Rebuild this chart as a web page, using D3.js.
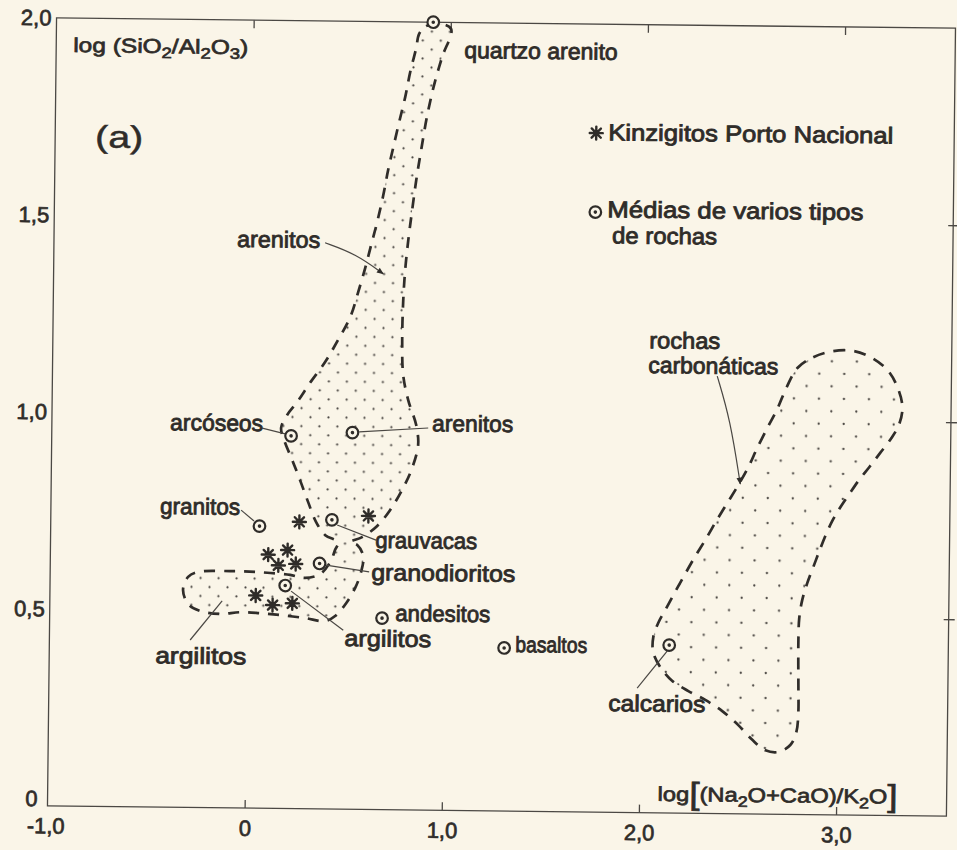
<!DOCTYPE html>
<html>
<head>
<meta charset="utf-8">
<script src="https://cdn.jsdelivr.net/npm/d3@7"></script>
<style>
  html, body { margin: 0; padding: 0; background: #faf5e8; }
  svg { display: block; }
  text { font-family: "Liberation Sans", Arial, sans-serif; fill: #2f2c29; }
</style>
</head>
<body>
<svg id="chart" width="957" height="850"></svg>
<script>
// ---- data: log[(Na2O+CaO)/K2O] (x) versus log(SiO2/Al2O3) (y) ----

// averages of several rock types (circled dots)
const rockNames = ["quartzo arenito", "arcóseos", "arenitos", "granitos", "grauvacas",
                   "granodioritos", "argilitos", "andesitos", "basaltos", "calcarios"];
const rockX = [0.911, 0.214, 0.525, 0.059, 0.426, 0.366, 0.193, 0.686, 1.307, 2.144];
const rockY = [2.000, 0.946, 0.956, 0.716, 0.734, 0.623, 0.566, 0.486, 0.414, 0.426];

// Kinzigitos Porto Nacional (asterisks)
const kinzX = [0.261, 0.611, 0.105, 0.203, 0.157, 0.245, 0.044, 0.130, 0.230];
const kinzY = [0.728, 0.745, 0.644, 0.656, 0.617, 0.621, 0.540, 0.516, 0.521];

// field of sandstones / arkoses / greywackes / pelites (single outline)
const clasticField = [
  [0.840, 1.970], [0.875, 1.990], [0.946, 1.996], [1.002, 1.983], [0.958, 1.912],
  [0.919, 1.841], [0.886, 1.764], [0.857, 1.675], [0.834, 1.599], [0.815, 1.523],
  [0.797, 1.446], [0.783, 1.370], [0.775, 1.294], [0.772, 1.193], [0.779, 1.104],
  [0.806, 1.040], [0.848, 0.977], [0.859, 0.927], [0.830, 0.868], [0.785, 0.817],
  [0.721, 0.761], [0.656, 0.720], [0.580, 0.691], [0.520, 0.678], [0.556, 0.671],
  [0.587, 0.643], [0.577, 0.603], [0.548, 0.562], [0.503, 0.523], [0.448, 0.490],
  [0.398, 0.477], [0.296, 0.484], [0.169, 0.491], [0.067, 0.495], [-0.034, 0.497],
  [-0.135, 0.492], [-0.237, 0.499], [-0.298, 0.516], [-0.325, 0.552], [-0.300, 0.585],
  [-0.250, 0.598], [-0.087, 0.601], [0.065, 0.599], [0.217, 0.593], [0.294, 0.586],
  [0.369, 0.596], [0.420, 0.627], [0.444, 0.658], [0.459, 0.678], [0.393, 0.695],
  [0.346, 0.728], [0.304, 0.779], [0.262, 0.834], [0.221, 0.885], [0.179, 0.935],
  [0.163, 0.966], [0.193, 0.999], [0.243, 1.032], [0.307, 1.081], [0.383, 1.135],
  [0.447, 1.191], [0.507, 1.249], [0.546, 1.313], [0.580, 1.374], [0.609, 1.433],
  [0.638, 1.491], [0.667, 1.558], [0.691, 1.624], [0.715, 1.680], [0.744, 1.746],
  [0.773, 1.809], [0.797, 1.873], [0.826, 1.934]
];

// field of carbonate rocks
const carbonateField = [
  [2.778, 1.133], [2.858, 1.161], [2.959, 1.177], [3.061, 1.178], [3.147, 1.163],
  [3.234, 1.131], [3.286, 1.088], [3.313, 1.037], [3.298, 0.994], [3.259, 0.958],
  [3.203, 0.920], [3.149, 0.884], [3.098, 0.851], [3.049, 0.815], [3.004, 0.781],
  [2.964, 0.746], [2.929, 0.707], [2.900, 0.669], [2.870, 0.628], [2.841, 0.588],
  [2.816, 0.544], [2.802, 0.498], [2.799, 0.443], [2.800, 0.379], [2.802, 0.316],
  [2.803, 0.260], [2.794, 0.209], [2.764, 0.176], [2.704, 0.158], [2.638, 0.162],
  [2.571, 0.188], [2.499, 0.225], [2.417, 0.260], [2.330, 0.288], [2.244, 0.310],
  [2.162, 0.335], [2.100, 0.370], [2.063, 0.408], [2.063, 0.446], [2.087, 0.482],
  [2.122, 0.515], [2.162, 0.553], [2.212, 0.599], [2.266, 0.648], [2.321, 0.694],
  [2.375, 0.742], [2.430, 0.788], [2.485, 0.834], [2.535, 0.880], [2.579, 0.929],
  [2.629, 0.980], [2.678, 1.028], [2.723, 1.082]
];

// axis ticks
const xTicks = [-1, 0, 1, 2, 3];
const xTickLabels = ["-1,0", "0", "1,0", "2,0", "3,0"];
const yTicks = [0, 0.5, 1, 1.5, 2];
const yTickLabels = ["0", "0,5", "1,0", "1,5", "2,0"];

// ---- annotations (label anchor in data units, lettered width in px) ----
const fieldLabels = [
  { t: "quartzo arenito", x: 1.070, y: 1.910 },
  { t: "arenitos",        x: -0.071, y: 1.424, w: 83 },
  { t: "arcóseos",        x: -0.400, y: 0.957, w: 93 },
  { t: "arenitos",        x: 0.929, y: 0.962, w: 81 },
  { t: "granitos",        x: -0.446, y: 0.744, w: 80 },
  { t: "grauvacas",       x: 0.647, y: 0.664, w: 102 },
  { t: "granodioritos",   x: 0.629, y: 0.582, w: 144 },
  { t: "andesitos",       x: 0.753, y: 0.479, w: 95 },
  { t: "argilitos",       x: 0.496, y: 0.414, w: 87 },
  { t: "argilitos",       x: -0.462, y: 0.365, w: 91 },
  { t: "basaltos",        x: 1.363, y: 0.404, w: 72, s: 22 },
  { t: "calcarios",       x: 1.839, y: 0.257, w: 97 },
  { t: "rochas",          x: 2.025, y: 1.179, w: 71 },
  { t: "carbonáticas",    x: 2.022, y: 1.116, w: 130 }
];

const leaders = [
  { pts: [[0.067, 0.965], [0.184, 0.951]] },                       // arcóseos
  { pts: [[0.559, 0.958], [0.909, 0.970]] },                       // arenitos
  { pts: [[-0.035, 0.756], [0.031, 0.729]] },                      // granitos
  { pts: [[0.453, 0.721], [0.651, 0.684]] },                       // grauvacas
  { pts: [[0.399, 0.619], [0.618, 0.603]] },                       // granodioritos
  { pts: [[0.223, 0.552], [0.490, 0.454]] },                       // argilitos
  { pts: [[-0.286, 0.425], [-0.126, 0.525]] },                     // argilitos (field)
  { pts: [[1.984, 0.316], [2.134, 0.411]] },                       // calcarios
  { pts: [[0.375, 1.437], [0.530, 1.410], [0.672, 1.360]], arrow: true },   // arenitos (field)
  { pts: [[2.372, 1.110], [2.441, 0.999], [2.495, 0.837]], arrow: true }    // rochas carbonáticas
];

// ---- drawing ----
const ink = "#2f2c29";
const paper = "#faf5e8";
const svg = d3.select("#chart");
svg.append("rect").attr("width", 957).attr("height", 850).attr("fill", paper);

const defs = svg.append("defs");
function stipple(id, size, r) {
  const p = defs.append("pattern").attr("id", id)
    .attr("patternUnits", "userSpaceOnUse").attr("width", size).attr("height", size);
  p.append("circle").attr("cx", size * 0.25).attr("cy", size * 0.3).attr("r", r).attr("fill", "#4a4642");
  p.append("circle").attr("cx", size * 0.75).attr("cy", size * 0.8).attr("r", r).attr("fill", "#4a4642");
}
stipple("dotsFine", 18, 1.1);
stipple("dotsCoarse", 25, 1.15);
defs.append("marker").attr("id", "arrow")
  .attr("viewBox", "0 0 10 10").attr("refX", 9).attr("refY", 5)
  .attr("markerWidth", 9).attr("markerHeight", 7)
  .attr("markerUnits", "userSpaceOnUse").attr("orient", "auto")
  .append("path").attr("d", "M0,1 L10,5 L0,9 z").attr("fill", ink);

// the sheet sits slightly turned on the page
const g = svg.append("g").attr("transform", "rotate(0.66,500,415)");

const x = d3.scaleLinear().domain([-1, 3.56]).range([52, 951]);
const y = d3.scaleLinear().domain([0, 2]).range([811, 23]);

// frame
g.append("rect")
  .attr("x", x(-1)).attr("y", y(2))
  .attr("width", x(3.56) - x(-1)).attr("height", y(0) - y(2))
  .attr("fill", "none").attr("stroke", "#4b4844").attr("stroke-width", 1.3);

function styleAxis(sel) {
  sel.select(".domain").remove();
  sel.selectAll(".tick line").attr("stroke", "#4b4844").attr("stroke-width", 1.3);
  sel.selectAll(".tick text")
    .attr("font-family", "'Liberation Sans', Arial, sans-serif")
    .attr("font-size", 22).attr("fill", ink)
    .attr("stroke", ink).attr("stroke-width", 0.7);
}

g.append("g").attr("transform", `translate(0,${y(0)})`)
  .call(d3.axisBottom(x).tickValues(xTicks)
    .tickFormat((d, i) => xTickLabels[i])
    .tickSizeInner(-8).tickSizeOuter(0).tickPadding(12))
  .call(styleAxis)
  .call(s => s.selectAll(".tick line").filter(d => d === -1).remove())
  .call(s => s.selectAll(".tick text").filter(d => d === -1).attr("dx", -2));

g.append("g").attr("transform", `translate(0,${y(2)})`)
  .call(d3.axisTop(x).tickValues([0, 1, 2, 3]).tickFormat("")
    .tickSizeInner(-8).tickSizeOuter(0))
  .call(styleAxis);

g.append("g").attr("transform", `translate(${x(-1)},0)`)
  .call(d3.axisLeft(y).tickValues(yTicks)
    .tickFormat((d, i) => yTickLabels[i])
    .tickSize(0).tickPadding(5))
  .call(styleAxis)
  // the origin label sits just above the corner, clear of "-1,0"
  .call(s => s.selectAll(".tick text").filter(d => d === 0).attr("y", -7).attr("dx", -5));

g.append("g").attr("transform", `translate(${x(3.56)},0)`)
  .call(d3.axisRight(y).tickValues([0.5, 1, 1.5]).tickFormat("")
    .tickSizeInner(6).tickSizeOuter(0))
  .call(styleAxis)
  .call(s => s.selectAll(".tick line").attr("x1", -5));

// fields
const fieldLine = d3.line()
  .x(d => x(d[0])).y(d => y(d[1]))
  .curve(d3.curveCatmullRomClosed.alpha(0.5));

g.append("path").attr("d", fieldLine(clasticField))
  .attr("fill", "url(#dotsFine)")
  .attr("stroke", "#302d2a").attr("stroke-width", 2.7)
  .attr("stroke-dasharray", "11 9");

g.append("path").attr("d", fieldLine(carbonateField))
  .attr("fill", "url(#dotsCoarse)")
  .attr("stroke", "#302d2a").attr("stroke-width", 2.7)
  .attr("stroke-dasharray", "12 9");

// leader lines
const leaderLine = d3.line().x(d => x(d[0])).y(d => y(d[1])).curve(d3.curveBasis);
leaders.forEach(l => {
  const p = g.append("path").attr("d", leaderLine(l.pts))
    .attr("fill", "none").attr("stroke", "#4a4743").attr("stroke-width", 1.2);
  if (l.arrow) p.attr("marker-end", "url(#arrow)");
});

// rock-type averages
const avg = g.append("g");
rockX.forEach((v, i) => {
  avg.append("circle").attr("cx", x(v)).attr("cy", y(rockY[i])).attr("r", 5.8)
    .attr("fill", paper).attr("stroke", ink).attr("stroke-width", 2.2);
  avg.append("circle").attr("cx", x(v)).attr("cy", y(rockY[i])).attr("r", 1.8)
    .attr("fill", ink);
});

// asterisk symbol
function asterisk(sel, cx, cy, r) {
  const d = [0, 45, 90, 135].map(a => {
    const t = a * Math.PI / 180;
    return `M${cx + r * Math.cos(t)},${cy + r * Math.sin(t)}L${cx - r * Math.cos(t)},${cy - r * Math.sin(t)}`;
  }).join("");
  sel.append("path").attr("d", d).attr("stroke", ink).attr("stroke-width", 2.4)
    .attr("stroke-linecap", "round");
}
const kz = g.append("g");
kinzX.forEach((v, i) => asterisk(kz, x(v), y(kinzY[i]), 6.5));

// text helper
function label(sel, str, px, py, size, width) {
  const t = sel.append("text").attr("x", px).attr("y", py)
    .attr("font-size", size).attr("stroke", ink).attr("stroke-width", 0.85)
    .text(str);
  if (width) t.attr("textLength", width).attr("lengthAdjust", "spacingAndGlyphs");
  return t;
}

fieldLabels.forEach(l => label(g, l.t, x(l.x), y(l.y), l.s || 23, l.w));

// panel letter
label(g, "(a)", 92, 152, 31, 48).attr("stroke-width", 0.5);

// y-axis title: log(SiO2/Al2O3)
const yt = g.append("text").attr("x", 69).attr("y", 57).attr("font-size", 20)
  .attr("stroke", ink).attr("stroke-width", 0.7)
  .attr("textLength", 175).attr("lengthAdjust", "spacingAndGlyphs");
yt.append("tspan").text("log (SiO");
yt.append("tspan").attr("dy", 5).attr("font-size", 15).text("2");
yt.append("tspan").attr("dy", -5).text("/Al");
yt.append("tspan").attr("dy", 5).attr("font-size", 15).text("2");
yt.append("tspan").attr("dy", -5).text("O");
yt.append("tspan").attr("dy", 5).attr("font-size", 15).text("3");
yt.append("tspan").attr("dy", -5).text(")");

// x-axis title: log[(Na2O+CaO)/K2O]
const xt = g.append("text").attr("x", 662).attr("y", 799).attr("font-size", 20)
  .attr("stroke", ink).attr("stroke-width", 0.7)
  .attr("textLength", 240).attr("lengthAdjust", "spacingAndGlyphs");
xt.append("tspan").text("log");
xt.append("tspan").attr("font-size", 31).attr("dy", 3).text("[");
xt.append("tspan").attr("dy", -3).text("(Na");
xt.append("tspan").attr("dy", 5).attr("font-size", 15).text("2");
xt.append("tspan").attr("dy", -5).text("O+CaO)/K");
xt.append("tspan").attr("dy", 5).attr("font-size", 15).text("2");
xt.append("tspan").attr("dy", -5).text("O");
xt.append("tspan").attr("font-size", 31).attr("dy", 3).text("]");

// legend
const lg = g.append("g");
asterisk(lg, 593, 132, 6.5);
label(lg, "Kinzigitos Porto Nacional", 605, 139, 23, 285);
lg.append("circle").attr("cx", 593).attr("cy", 211).attr("r", 5.8)
  .attr("fill", paper).attr("stroke", ink).attr("stroke-width", 2.2);
lg.append("circle").attr("cx", 593).attr("cy", 211).attr("r", 1.8).attr("fill", ink);
label(lg, "Médias de varios tipos", 605, 216, 23, 256);
label(lg, "de rochas", 610, 242, 23, 105);
</script>
</body>
</html>
